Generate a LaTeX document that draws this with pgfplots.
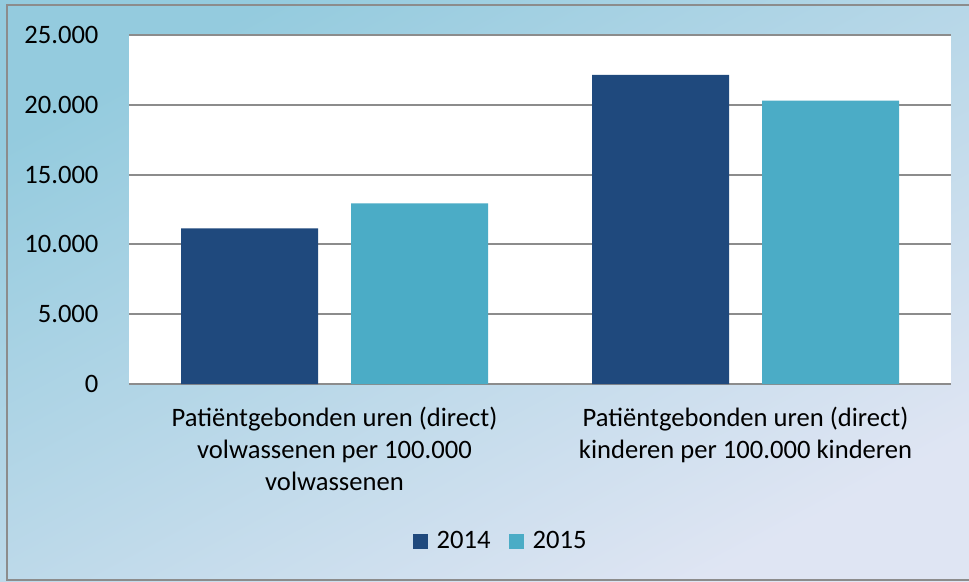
\documentclass[border=0pt]{standalone}
\usepackage{pgfplots}
\pgfplotsset{compat=1.18}
\usepackage{fontspec}
\setmainfont{Carlito}
\definecolor{cA}{HTML}{1F497D}
\definecolor{cB}{HTML}{4BACC6}
\definecolor{bgTL}{HTML}{94CBDE}
\definecolor{bgM}{HTML}{BED0EB}
\definecolor{bgBR}{HTML}{DFE5F3}
\definecolor{gridc}{HTML}{8C8C8C}
\begin{document}
\begin{tikzpicture}[x=1pt,y=1pt]
\useasboundingbox (0,0) rectangle (969,581);
\shade[left color=bgTL, middle color=bgM, right color=bgBR, shading angle=28] (0,0) rectangle (969,581);
\draw[gridc, line width=2pt] (980,576) -- (7,576) -- (7,1) -- (980,1);
\pgfplotstableread{
x y
0 11150
1 22140
}\dataA
\pgfplotstableread{
x y
0 12930
1 20290
}\dataB
\begin{axis}[
  at={(129pt,197pt)}, anchor=south west,
  scale only axis, width=822pt, height=349pt,
  xmin=-0.5, xmax=1.5, ymin=0, ymax=25000,
  ybar=33pt, bar width=137pt,
  axis line style={draw=none},
  axis background/.style={fill=white},
  major tick length=0pt,
  ymajorgrids, grid style={gridc, line width=2pt},
  ytick={0,5000,10000,15000,20000,25000},
  scaled y ticks=false,
  /pgf/number format/.cd, 1000 sep={.}, assume math mode=true,
  /pgfplots/.cd,
  yticklabel style={font=\fontsize{26.6}{31}\selectfont, xshift=-27pt},
  xtick={0,1},
  xticklabels={{Patiëntgebonden uren (direct)\\volwassenen per 100.000\\volwassenen},{Patiëntgebonden uren (direct)\\kinderen per 100.000 kinderen}},
  xticklabel style={font=\fontsize{26.6}{32}\selectfont, align=center, yshift=-20pt},
  legend style={draw=none, fill=none, legend columns=2, at={(0.452,-0.45)}, anchor=center,
    font=\fontsize{26.6}{31}\selectfont,
    /tikz/every odd column/.append style={column sep=7pt},
    /tikz/every even column/.append style={column sep=16pt}},
  legend image code/.code={\fill[#1] (0pt,-7.5pt) rectangle (15pt,7.5pt);},
]
\addplot[fill=cA, draw=none] table[x=x,y=y] {\dataA};
\addplot[fill=cB, draw=none] table[x=x,y=y] {\dataB};
\legend{2014,2015}
\end{axis}
\end{tikzpicture}
\end{document}
